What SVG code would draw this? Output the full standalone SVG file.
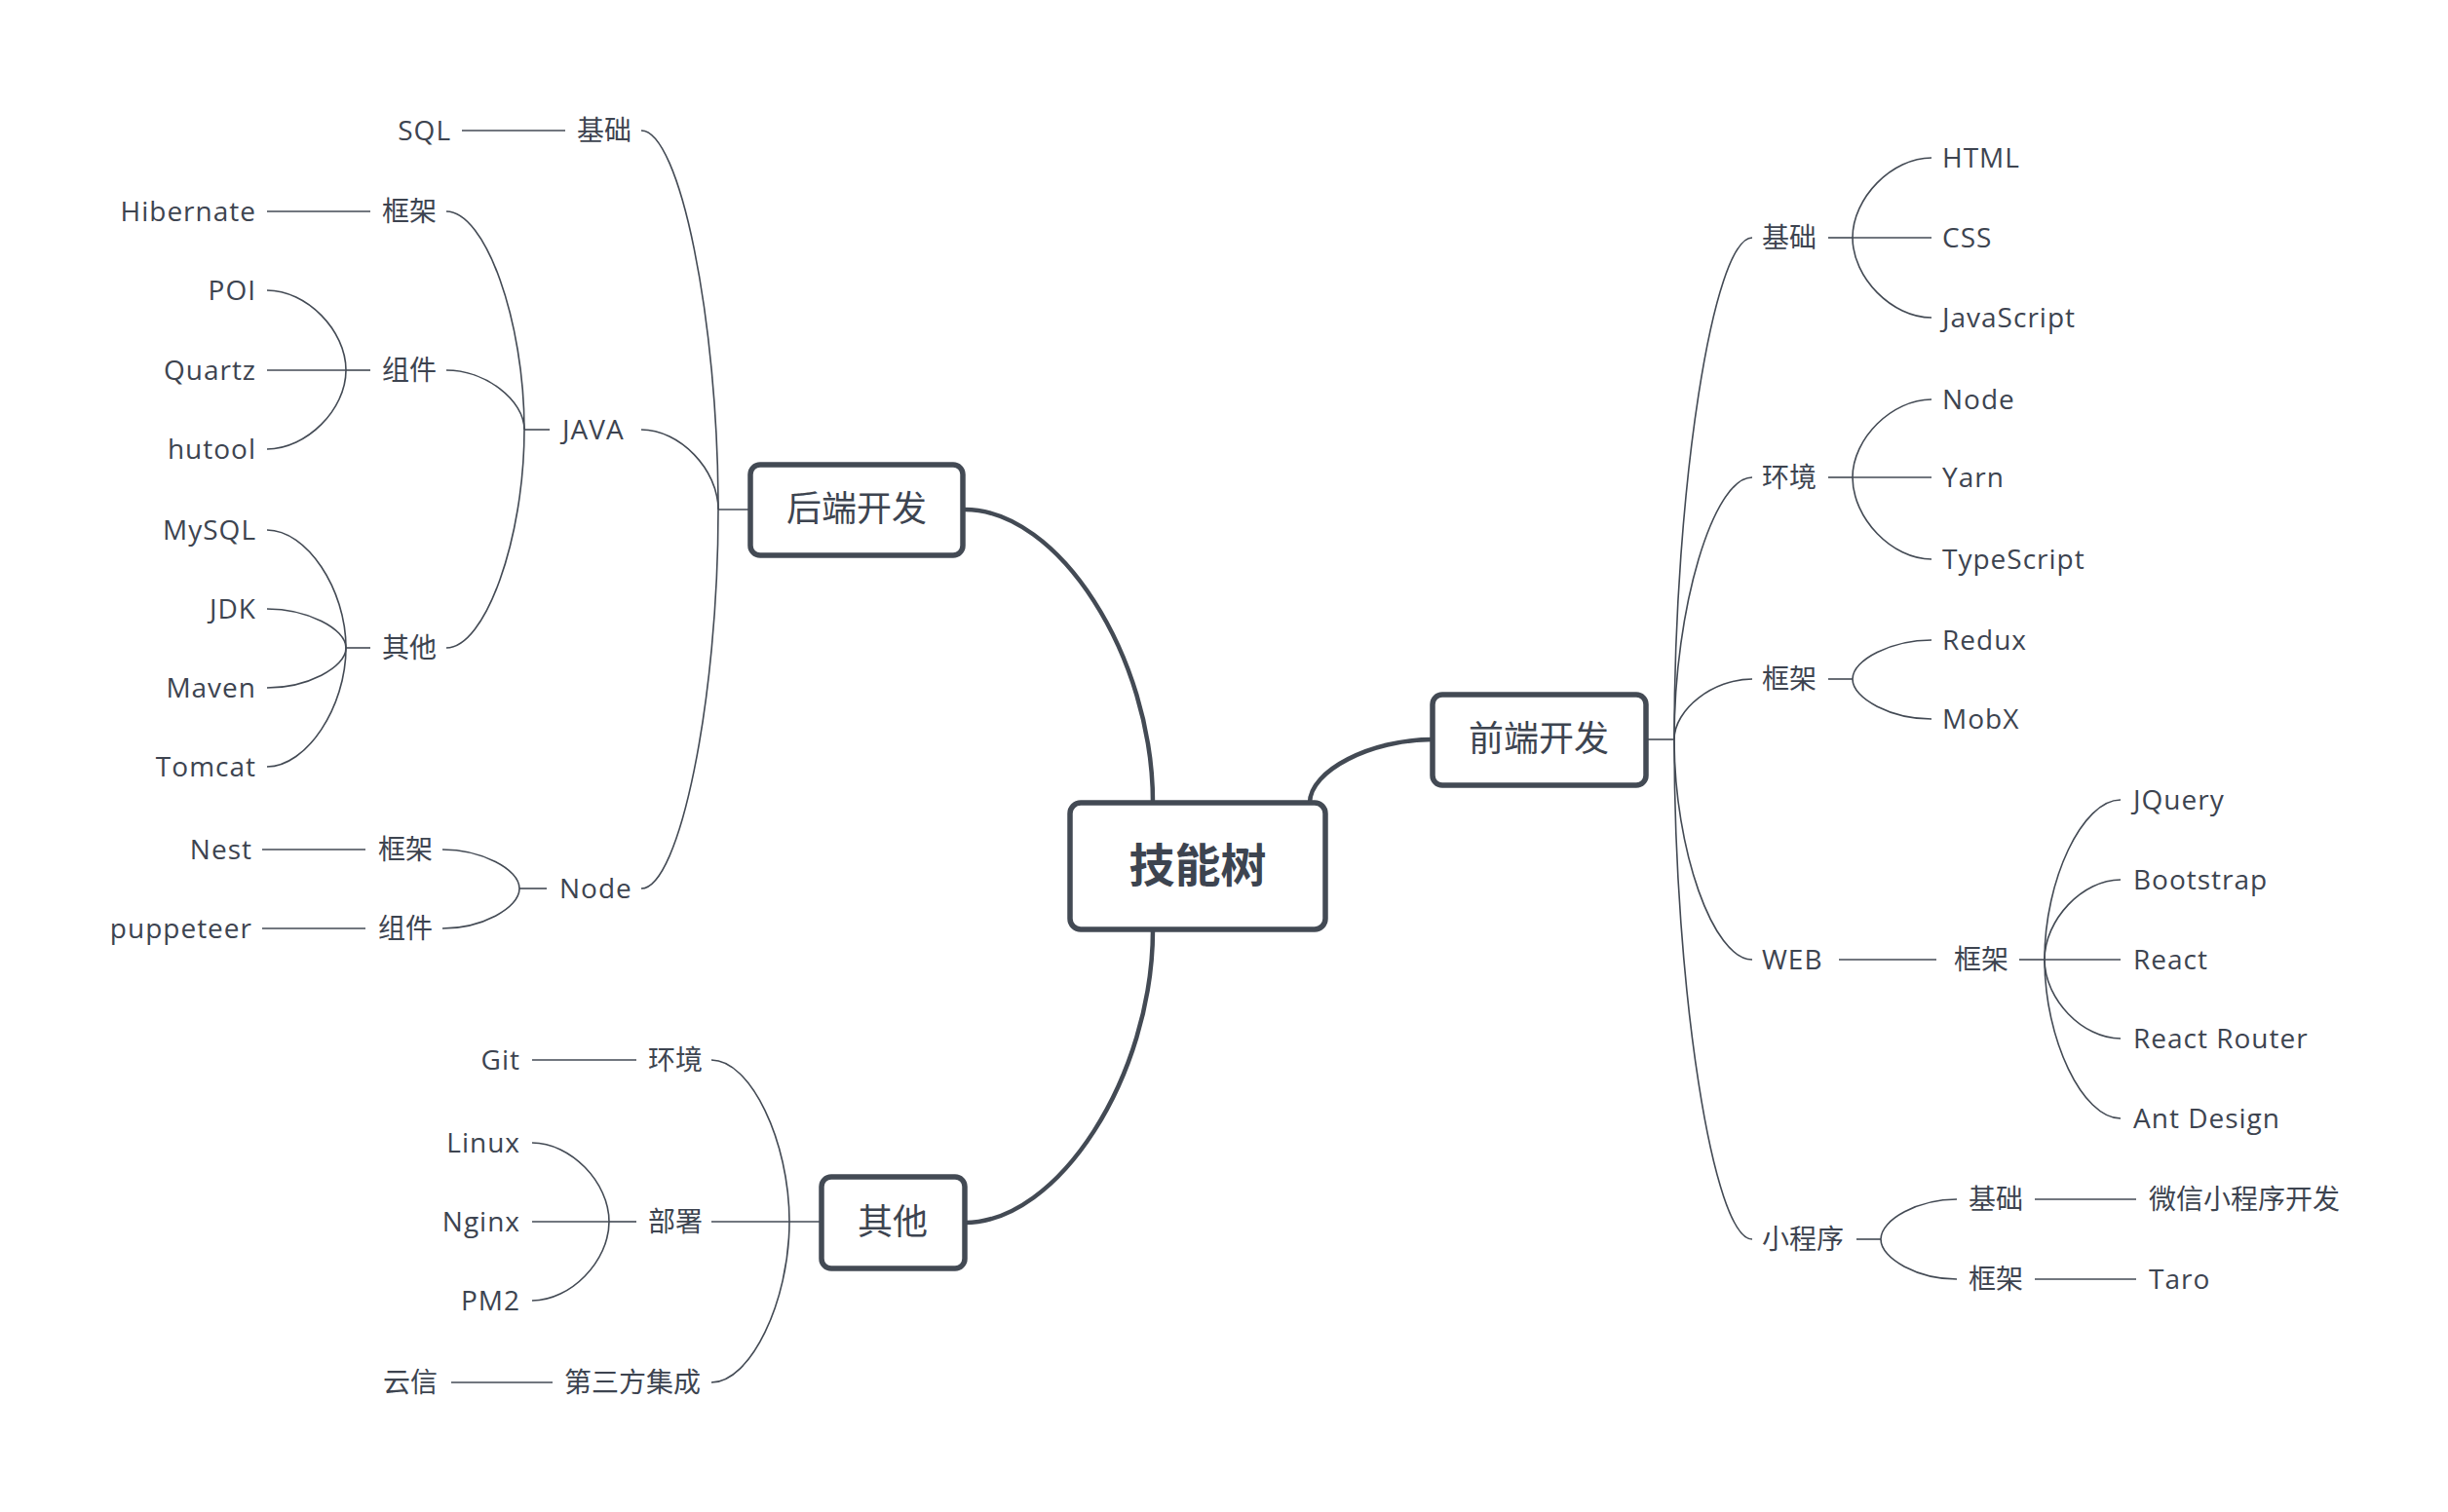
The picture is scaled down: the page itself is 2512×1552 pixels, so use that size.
<svg xmlns="http://www.w3.org/2000/svg" width="2512" height="1552" viewBox="0 0 2512 1552">
<style>
text{font-family:"Open Sans","Noto Sans CJK SC",sans-serif;fill:#3d4450;font-size:28px}
.l{letter-spacing:1px}
.e{text-anchor:end}
.m{font-size:36px;text-anchor:middle}
.r{font-size:47px;font-weight:bold;text-anchor:middle}
.box{fill:#fff;stroke:#434a54;stroke-width:5.5}
.c{fill:none;stroke:#434a54;stroke-width:1.6}
.t{fill:none;stroke:#434a54;stroke-width:4.5;stroke-linecap:round}
</style>
<rect width="2512" height="1552" fill="#fff"/>
<g id="connectors">
<path class="t" d="M990 523 C1086 523 1183 673 1183 824"/>
<path class="t" d="M1470 759 C1407 759 1344 791 1344 824"/>
<path class="t" d="M990 1255 C1086 1255 1183 1105 1183 954"/>
<path class="c" d="M737 523 H770"/>
<path class="c" d="M658 134 C697.5 134 737 328.5 737 523"/>
<path class="c" d="M658 441 C697.5 441 737 482 737 523"/>
<path class="c" d="M658 912 C697.5 912 737 717.5 737 523"/>
<path class="c" d="M474 134 H580"/>
<path class="c" d="M538 441 H564"/>
<path class="c" d="M458 217 C498 217 538 329 538 441"/>
<path class="c" d="M458 380 C498 380 538 410.5 538 441"/>
<path class="c" d="M458 665 C498 665 538 553 538 441"/>
<path class="c" d="M274 217 H380"/>
<path class="c" d="M355 380 H380"/>
<path class="c" d="M274 298 C314.5 298 355 339 355 380"/>
<path class="c" d="M274 380 H355"/>
<path class="c" d="M274 461 C314.5 461 355 420.5 355 380"/>
<path class="c" d="M355 665 H380"/>
<path class="c" d="M274 544 C314.5 544 355 604.5 355 665"/>
<path class="c" d="M274 625 C314.5 625 355 645 355 665"/>
<path class="c" d="M274 706 C314.5 706 355 685.5 355 665"/>
<path class="c" d="M274 787 C314.5 787 355 726 355 665"/>
<path class="c" d="M533 912 H561"/>
<path class="c" d="M454 872 C493.5 872 533 892 533 912"/>
<path class="c" d="M454 953 C493.5 953 533 932.5 533 912"/>
<path class="c" d="M269 872 H375"/>
<path class="c" d="M269 953 H375"/>
<path class="c" d="M810 1254 H843"/>
<path class="c" d="M730 1088 C770 1088 810 1171 810 1254"/>
<path class="c" d="M730 1254 H810"/>
<path class="c" d="M730 1419 C770 1419 810 1336.5 810 1254"/>
<path class="c" d="M546 1088 H653"/>
<path class="c" d="M625 1254 H653"/>
<path class="c" d="M546 1173 C585.5 1173 625 1213.5 625 1254"/>
<path class="c" d="M546 1254 H625"/>
<path class="c" d="M546 1335 C585.5 1335 625 1294.5 625 1254"/>
<path class="c" d="M463 1419 H567"/>
<path class="c" d="M1689 759 H1718"/>
<path class="c" d="M1798 244 C1758 244 1718 501.5 1718 759"/>
<path class="c" d="M1798 490 C1758 490 1718 624.5 1718 759"/>
<path class="c" d="M1798 697 C1758 697 1718 728 1718 759"/>
<path class="c" d="M1798 985 C1758 985 1718 872 1718 759"/>
<path class="c" d="M1798 1272 C1758 1272 1718 1015.5 1718 759"/>
<path class="c" d="M1876 244 H1901"/>
<path class="c" d="M1982 162 C1941.5 162 1901 203 1901 244"/>
<path class="c" d="M1901 244 H1982"/>
<path class="c" d="M1982 326 C1941.5 326 1901 285 1901 244"/>
<path class="c" d="M1876 490 H1901"/>
<path class="c" d="M1982 410 C1941.5 410 1901 450 1901 490"/>
<path class="c" d="M1901 490 H1982"/>
<path class="c" d="M1982 574 C1941.5 574 1901 532 1901 490"/>
<path class="c" d="M1876 697 H1901"/>
<path class="c" d="M1982 657 C1941.5 657 1901 677 1901 697"/>
<path class="c" d="M1982 738 C1941.5 738 1901 717.5 1901 697"/>
<path class="c" d="M1887 985 H1987"/>
<path class="c" d="M2072 985 H2098"/>
<path class="c" d="M2176 821 C2137 821 2098 903 2098 985"/>
<path class="c" d="M2176 903 C2137 903 2098 944 2098 985"/>
<path class="c" d="M2098 985 H2176"/>
<path class="c" d="M2176 1066 C2137 1066 2098 1025.5 2098 985"/>
<path class="c" d="M2176 1148 C2137 1148 2098 1066.5 2098 985"/>
<path class="c" d="M1905 1272 H1930"/>
<path class="c" d="M2008 1231 C1969 1231 1930 1251.5 1930 1272"/>
<path class="c" d="M2008 1313 C1969 1313 1930 1292.5 1930 1272"/>
<path class="c" d="M2088 1231 H2192"/>
<path class="c" d="M2088 1313 H2192"/>
</g>
<g id="root"><rect class="box" x="1098" y="824" width="262" height="130" rx="11"/><text class="r" x="1229" y="905">技能树</text></g>
<g id="backend"><rect class="box" x="770" y="477" width="218" height="93" rx="10"/><text class="m" x="879" y="535">后端开发</text></g>
<g id="frontend"><rect class="box" x="1470" y="713" width="219" height="93" rx="10"/><text class="m" x="1579" y="771">前端开发</text></g>
<g id="other"><rect class="box" x="843" y="1208" width="147" height="94" rx="10"/><text class="m" x="916" y="1267">其他</text></g>
<g id="b-jichu"><text x="592" y="144">基础</text></g>
<g id="b-sql"><text class="e l" x="463" y="144">SQL</text></g>
<g id="b-java"><text class="l" x="577" y="451">JAVA</text></g>
<g id="b-java-kuangjia"><text x="392" y="227">框架</text></g>
<g id="b-hibernate"><text class="e l" x="263" y="227">Hibernate</text></g>
<g id="b-java-zujian"><text x="392" y="390">组件</text></g>
<g id="b-poi"><text class="e l" x="263" y="308">POI</text></g>
<g id="b-quartz"><text class="e l" x="263" y="390">Quartz</text></g>
<g id="b-hutool"><text class="e l" x="263" y="471">hutool</text></g>
<g id="b-java-qita"><text x="392" y="675">其他</text></g>
<g id="b-mysql"><text class="e l" x="263" y="554">MySQL</text></g>
<g id="b-jdk"><text class="e l" x="263" y="635">JDK</text></g>
<g id="b-maven"><text class="e l" x="263" y="716">Maven</text></g>
<g id="b-tomcat"><text class="e l" x="263" y="797">Tomcat</text></g>
<g id="b-node"><text class="l" x="574" y="922">Node</text></g>
<g id="b-node-kuangjia"><text x="388" y="882">框架</text></g>
<g id="b-nest"><text class="e l" x="259" y="882">Nest</text></g>
<g id="b-node-zujian"><text x="388" y="963">组件</text></g>
<g id="b-puppeteer"><text class="e l" x="259" y="963">puppeteer</text></g>
<g id="o-huanjing"><text x="665" y="1098">环境</text></g>
<g id="o-git"><text class="e l" x="534" y="1098">Git</text></g>
<g id="o-bushu"><text x="665" y="1264">部署</text></g>
<g id="o-linux"><text class="e l" x="534" y="1183">Linux</text></g>
<g id="o-nginx"><text class="e l" x="534" y="1264">Nginx</text></g>
<g id="o-pm2"><text class="e l" x="534" y="1345">PM2</text></g>
<g id="o-third"><text class="e" x="719" y="1429">第三方集成</text></g>
<g id="o-yunxin"><text class="e" x="449" y="1429">云信</text></g>
<g id="f-jichu"><text x="1808" y="254">基础</text></g>
<g id="f-html"><text class="l" x="1993" y="172">HTML</text></g>
<g id="f-css"><text class="l" x="1993" y="254">CSS</text></g>
<g id="f-js"><text class="l" x="1993" y="336">JavaScript</text></g>
<g id="f-huanjing"><text x="1808" y="500">环境</text></g>
<g id="f-node"><text class="l" x="1993" y="420">Node</text></g>
<g id="f-yarn"><text class="l" x="1993" y="500">Yarn</text></g>
<g id="f-ts"><text class="l" x="1993" y="584">TypeScript</text></g>
<g id="f-kuangjia"><text x="1808" y="707">框架</text></g>
<g id="f-redux"><text class="l" x="1993" y="667">Redux</text></g>
<g id="f-mobx"><text class="l" x="1993" y="748">MobX</text></g>
<g id="f-web"><text class="l" x="1808" y="995">WEB</text></g>
<g id="f-web-kuangjia"><text x="2005" y="995">框架</text></g>
<g id="f-jquery"><text class="l" x="2189" y="831">JQuery</text></g>
<g id="f-bootstrap"><text class="l" x="2189" y="913">Bootstrap</text></g>
<g id="f-react"><text class="l" x="2189" y="995">React</text></g>
<g id="f-router"><text class="l" x="2189" y="1076">React Router</text></g>
<g id="f-antd"><text class="l" x="2189" y="1158">Ant Design</text></g>
<g id="f-mini"><text x="1808" y="1282">小程序</text></g>
<g id="f-mini-jichu"><text x="2020" y="1241">基础</text></g>
<g id="f-wechat"><text x="2205" y="1241">微信小程序开发</text></g>
<g id="f-mini-kuangjia"><text x="2020" y="1323">框架</text></g>
<g id="f-taro"><text class="l" x="2205" y="1323">Taro</text></g>
</svg>
